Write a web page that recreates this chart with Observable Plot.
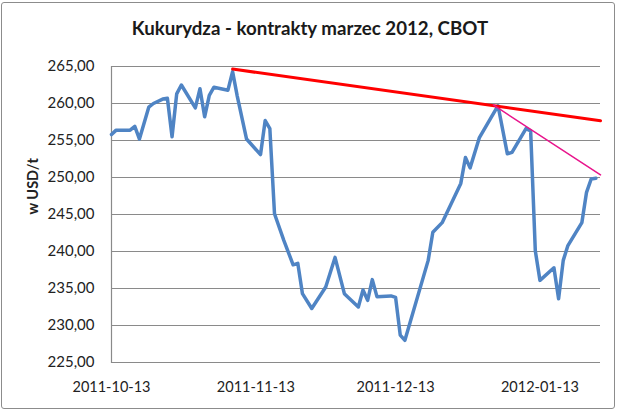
<!DOCTYPE html>
<html>
<head>
<meta charset="utf-8">
<script src="https://cdn.jsdelivr.net/npm/d3@7"></script>
<script src="https://cdn.jsdelivr.net/npm/@observablehq/plot@0.6"></script>
<style>
  html, body { margin: 0; padding: 0; background: #fff; }
  #wrap { position: relative; width: 620px; height: 413px; overflow: hidden; }
  #border { position: absolute; left: 1px; top: 2px; width: 614px; height: 407px;
            border: 1.5px solid #8c8c8c; border-radius: 3px; box-sizing: border-box; }
  #title { position: absolute; left: 0; top: 0; width: 620px; height: 50px; text-align: center;
           font-family: Lato, "Open Sans", sans-serif; font-weight: bold; font-size: 18.7px;
           line-height: 56px; color: #1a1a1a; }
  #chart { position: absolute; left: 0; top: 50px; }
</style>
</head>
<body>
<div id="wrap">
  <div id="border"></div>
  <div id="title">Kukurydza - kontrakty marzec 2012, CBOT</div>
  <div id="chart"></div>
</div>
<script>
const dates = [
  "2011-10-13","2011-10-14","2011-10-17","2011-10-18","2011-10-19","2011-10-21","2011-10-22",
  "2011-10-24","2011-10-25","2011-10-26","2011-10-27","2011-10-28","2011-10-31",
  "2011-11-01","2011-11-02","2011-11-03","2011-11-04","2011-11-07","2011-11-08","2011-11-09",
  "2011-11-11","2011-11-14","2011-11-15","2011-11-16","2011-11-17","2011-11-19","2011-11-21",
  "2011-11-22","2011-11-23","2011-11-25","2011-11-28","2011-11-30",
  "2011-12-02","2011-12-05","2011-12-06","2011-12-07","2011-12-08","2011-12-09","2011-12-12",
  "2011-12-13","2011-12-14","2011-12-15","2011-12-20","2011-12-21","2011-12-23","2011-12-27",
  "2011-12-28","2011-12-29","2011-12-31",
  "2012-01-04","2012-01-06","2012-01-07","2012-01-10","2012-01-11","2012-01-12","2012-01-13",
  "2012-01-16","2012-01-17","2012-01-18","2012-01-19","2012-01-22","2012-01-23","2012-01-24",
  "2012-01-25"
];
const prices = [
  255.8,256.4,256.4,256.9,255.2,259.5,260.0,
  260.6,260.7,255.5,261.3,262.5,259.4,
  262.0,258.2,261.1,262.2,261.8,264.3,261.0,
  255.2,253.1,257.7,256.6,245.1,241.5,238.2,
  238.4,234.3,232.3,235.2,239.2,
  234.3,232.5,234.8,233.4,236.2,233.9,234.0,
  233.8,228.7,228.0,238.8,242.6,243.9,249.2,
  252.7,251.3,255.4,
  259.7,253.2,253.4,256.6,256.3,240.1,236.1,
  237.8,233.6,238.8,240.8,243.9,248.0,249.8,
  249.9
];
const redTrendDates = ["2011-11-08","2012-01-26"];
const redTrendValues = [264.65, 257.67];
const pinkTrendDates = ["2012-01-03","2012-01-26"];
const pinkTrendValues = [259.8, 250.35];
const xTicks = ["2011-10-13","2011-11-13","2011-12-13","2012-01-13"];
const yTicks = [225,230,235,240,245,250,255,260,265];
const xDomain = ["2011-10-13","2012-01-26"];
const yLabel = "w USD/t";

const series = dates.map((d,i) => ({date: new Date(d), value: prices[i]}));
const red = redTrendDates.map((d,i) => ({date: new Date(d), value: redTrendValues[i]}));
const pink = pinkTrendDates.map((d,i) => ({date: new Date(d), value: pinkTrendValues[i]}));

const fmt = d => d.toFixed(2).replace(".", ",");

const chart = Plot.plot({
  width: 620,
  height: 363,
  marginLeft: 111,
  marginRight: 20,
  marginTop: 16,
  marginBottom: 51,
  style: {fontFamily: "Lato, 'Open Sans', sans-serif", fontSize: "14.5px", color: "#222", background: "transparent"},
  x: {type: "utc", domain: xDomain.map(d => new Date(d))},
  y: {domain: [225, 265]},
  marks: [
    Plot.gridY(yTicks, {stroke: "#8a8a8a", strokeOpacity: 1, strokeWidth: 1.2}),
    Plot.frame({anchor: "left", stroke: "#8a8a8a", strokeWidth: 1.2}),
    Plot.axisY(yTicks, {tickSize: 0, tickPadding: 17, tickFormat: fmt, label: null, fontSize: 15}),
    Plot.axisX(xTicks.map(d => new Date(d)), {tickSize: 0, tickPadding: 19, tickFormat: d3.utcFormat("%Y-%m-%d"), label: null}),
    Plot.text([yLabel], {frameAnchor: "left", text: d => d, rotate: -90, dx: -78, fontWeight: "bold", fontSize: 14.5}),
    Plot.line(series, {x: "date", y: "value", stroke: "#4f84c4", strokeWidth: 3.5, strokeLinejoin: "round"}),
    Plot.line(red, {x: "date", y: "value", stroke: "#ff0000", strokeWidth: 3}),
    Plot.line(pink, {x: "date", y: "value", stroke: "#e8158c", strokeWidth: 1.5})
  ]
});
document.getElementById("chart").appendChild(chart);
</script>
</body>
</html>
